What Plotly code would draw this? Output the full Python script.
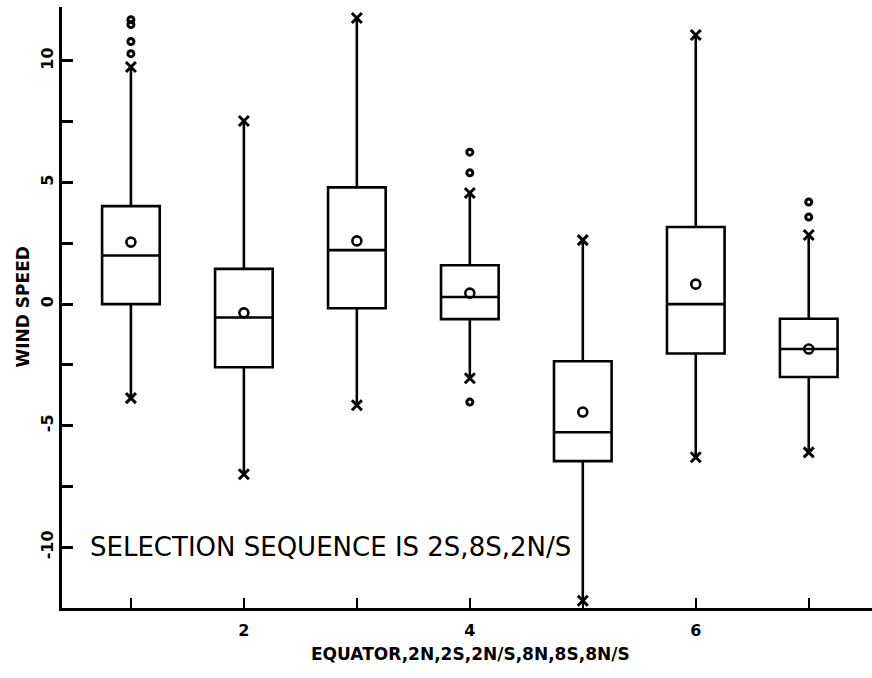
import plotly.graph_objects as go

# Seven regional groupings of wind speed, plotted at positions 1..7
positions = [1, 2, 3, 4, 5, 6, 7]
q1 = [0.0, -2.6, -0.17, -0.62, -6.46, -2.03, -3.0]
median = [2.0, -0.55, 2.22, 0.29, -5.27, 0.0, -1.85]
q3 = [4.03, 1.45, 4.8, 1.6, -2.35, 3.17, -0.6]
mean = [2.55, -0.36, 2.6, 0.45, -4.44, 0.82, -1.85]
whisker_lo = [-3.87, -7.0, -4.16, -3.05, -12.2, -6.3, -6.1]
whisker_hi = [9.75, 7.53, 11.77, 4.57, 2.63, 11.07, 2.84]

# Individual outlying observations beyond the whiskers
outlier_x = [1, 1, 1, 1, 4, 4, 4, 7, 7]
outlier_y = [10.3, 10.8, 11.5, 11.7, 5.4, 6.25, -4.03, 3.58, 4.2]

x_ticks = [2, 4, 6]
y_ticks = [-10, -5, 0, 5, 10]

FONT = "DejaVu Sans"

fig = go.Figure()

fig.add_trace(go.Box(
    x=positions, q1=q1, median=median, q3=q3,
    lowerfence=whisker_lo, upperfence=whisker_hi,
    width=0.51, whiskerwidth=0, boxpoints=False,
    fillcolor="white", line=dict(color="black", width=2.6),
    showlegend=False, hoverinfo="skip",
))

# Whisker ends
fig.add_trace(go.Scatter(
    x=positions + positions, y=whisker_lo + whisker_hi, mode="markers",
    marker=dict(symbol="x-thin", size=10, line=dict(color="black", width=3)),
    showlegend=False, hoverinfo="skip",
))

# Group means
fig.add_trace(go.Scatter(
    x=positions, y=mean, mode="markers",
    marker=dict(symbol="circle-open", size=9, color="black", line=dict(width=2.6)),
    showlegend=False, hoverinfo="skip",
))

# Outliers
fig.add_trace(go.Scatter(
    x=outlier_x, y=outlier_y, mode="markers",
    marker=dict(symbol="circle-open", size=6, color="black", line=dict(width=3)),
    showlegend=False, hoverinfo="skip",
))

fig.add_annotation(
    x=0.62, y=-10, xref="x", yref="y", xanchor="left", yanchor="middle",
    text="SELECTION SEQUENCE IS 2S,8S,2N/S", showarrow=False,
    font=dict(family=FONT, size=26, color="black"),
)

# Axis titles
fig.add_annotation(
    x=-40 / 810, y=0.5, xref="paper", yref="paper", xanchor="center", yanchor="middle",
    text="WIND SPEED", textangle=-90, showarrow=False,
    font=dict(family=FONT, size=17, color="black", weight="bold"),
)
fig.add_annotation(
    x=0.504, y=-46 / 601, xref="paper", yref="paper", xanchor="center", yanchor="middle",
    text="EQUATOR,2N,2S,2N/S,8N,8S,8N/S", showarrow=False,
    font=dict(family=FONT, size=17, color="black", weight="bold"),
)

fig.update_layout(
    width=872, height=678,
    margin=dict(l=62, r=0, t=7, b=70),
    paper_bgcolor="white", plot_bgcolor="white",
    font=dict(family=FONT, color="black"),
    xaxis=dict(
        range=[0.39, 7.56], showgrid=False, zeroline=False,
        showline=True, linecolor="black", linewidth=3,
        ticks="inside", ticklen=10, tickwidth=2, tickcolor="black",
        tickvals=x_ticks, ticktext=[str(v) for v in x_ticks],
        minor=dict(dtick=1, tick0=0, ticks="inside", ticklen=10, tickwidth=2, tickcolor="black"),
        tickfont=dict(family=FONT, size=16, color="black", weight="bold"),
        ticklabelstandoff=6,
    ),
    yaxis=dict(
        range=[-12.5, 12.22], showgrid=False, zeroline=False,
        showline=True, linecolor="black", linewidth=3,
        ticks="inside", ticklen=11, tickwidth=2.5, tickcolor="black",
        tickvals=y_ticks, ticktext=[str(v) for v in y_ticks],
        minor=dict(dtick=2.5, tick0=0, ticks="inside", ticklen=11, tickwidth=2.5, tickcolor="black"),
        tickangle=-90,
        tickfont=dict(family=FONT, size=16, color="black", weight="bold"),
    ),
)

fig.write_html("out.html")
